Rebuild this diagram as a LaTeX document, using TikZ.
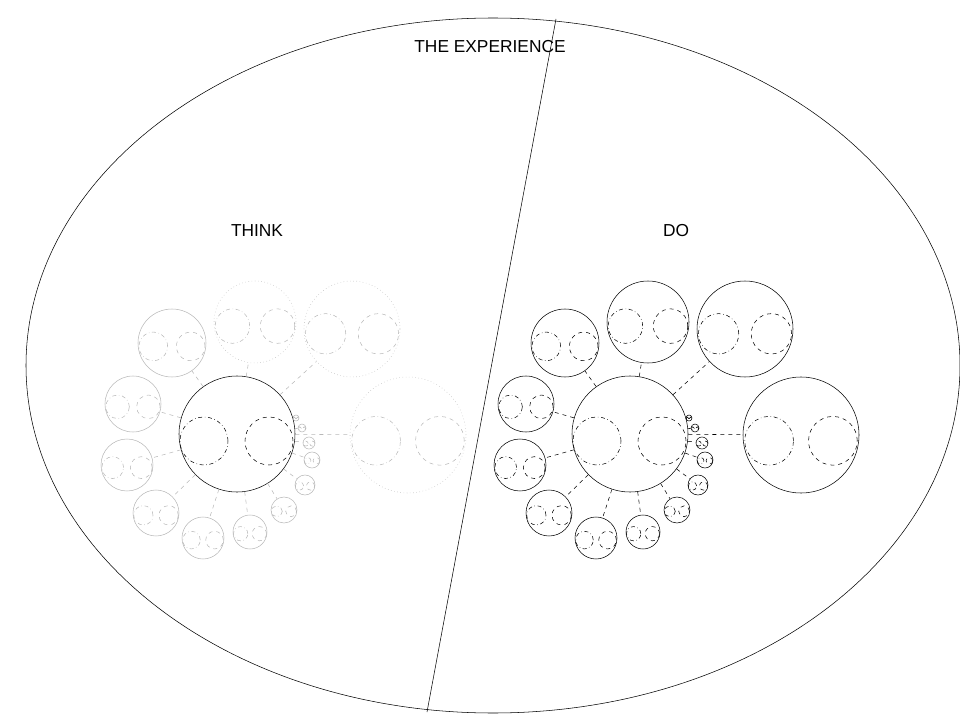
\documentclass[tikz,border=0pt]{standalone}
\usepackage{fontspec}
\setmainfont{Liberation Sans}
\usetikzlibrary{shapes.geometric}
\begin{document}
\begin{tikzpicture}[x=0.75pt,y=-0.75pt,
  ring/.style={circle,inner sep=0pt,draw},
  Dsolid/.style={solid},Ddotted/.style={solid},
  Tsolid/.style={solid},Tdotted/.style={dotted},
  lbl/.style={font=\fontsize{13}{15}\selectfont}]
\useasboundingbox (0,0) rectangle (960,720);
\node[ellipse,draw,minimum width=934*0.75pt,minimum height=695*0.75pt,inner sep=0] (exp) at (493,365.5) {};
\coordinate (top) at (556,19);
\coordinate (bot) at (427,712);
\draw (top) -- (bot);
\node[lbl] (t) at (490,47) {THE EXPERIENCE};
\node[lbl] (think) at (257,231) {THINK};
\node[lbl] (do) at (676,231) {DO};
\foreach \pre/\dx/\col in {D/0/black, T/-393/black!28}{
  \node[ring,minimum size=116*0.75pt,draw=black] (\pre c) at (630+\dx,434) {};
  \node[ring,minimum size=48*0.75pt,dash dot] (\pre cl) at (597+\dx,441) {};
  \node[ring,minimum size=48*0.75pt,dashed] (\pre cr) at (662+\dx,441) {};
  \foreach \i/\x/\y/\r/\st in {1/565/343/34/solid,2/648/322/41/dotted,3/745/329/48/dotted,4/801/435/58/dotted,
     5/526/404/28/solid,6/520/465/26/solid,7/549/513/23/solid,8/596/538/21/solid,9/643/532/17/solid,
     10/677/510/13/solid,11/698/485/10/solid,12/705/460/8/solid,13/702/443/6/solid,14/695/428/4/solid,15/689/418/3/solid}{
    \node[ring,minimum size=2*\r*0.75pt,draw=\col,\pre\st] (\pre\i) at (\x+\dx,\y) {};
    \node[ring,minimum size=0.84*\r*0.75pt,draw=\col,dash dot] (\pre\i l) at (\x+\dx-0.55*\r,\y+0.1*\r) {};
    \node[ring,minimum size=0.84*\r*0.75pt,draw=\col,dashed] (\pre\i r) at (\x+\dx+0.55*\r,\y+0.1*\r) {};
    \draw[\col,dashed] (\pre c) -- (\pre\i);
  }
}
\end{tikzpicture}
\end{document}
